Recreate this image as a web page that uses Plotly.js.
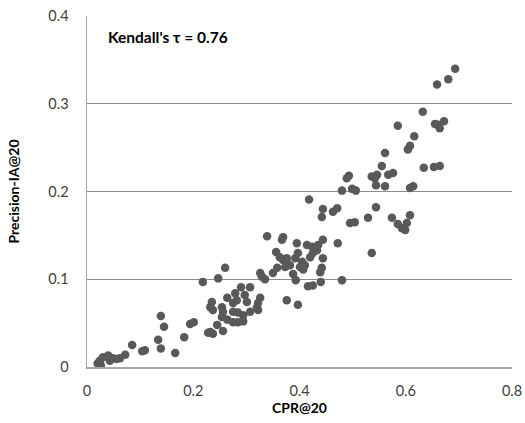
<!DOCTYPE html>
<html>
<head>
<meta charset="utf-8">
<script src="https://cdn.plot.ly/plotly-3.0.1.min.js"></script>
<style>html,body{margin:0;padding:0;background:#fff;}#chart{width:525px;height:423px;}</style>
</head>
<body>
<div id="chart"></div>
<script>
// CPR@20 values (x)
const cpr = [
  0.020,0.024,0.026,0.030,0.040,0.043,0.049,0.056,0.062,0.072,0.085,0.104,0.109,0.139,0.145,0.134,0.139,0.166,0.183,0.194,0.201,
  0.218,0.247,0.260,0.290,0.307,0.279,0.297,0.264,0.235,0.232,0.237,0.282,0.275,0.301,0.326,0.322,0.320,0.254,0.256,0.254,0.275,0.284,0.294,0.307,0.322,0.264,0.275,0.284,0.294,0.245,0.232,0.237,0.228,0.256,
  0.339,0.369,0.367,0.356,0.369,0.376,0.358,0.350,0.326,0.329,0.335,0.376,0.397,0.395,0.414,0.424,0.435,0.444,0.472,0.425,0.420,0.433,0.397,0.392,0.376,0.363,0.405,0.410,0.407,0.401,0.382,0.373,0.444,0.442,0.439,0.388,0.393,0.416,0.425,0.440,0.480,0.536,
  0.418,0.444,0.442,0.463,0.471,0.495,0.504,0.529,0.544,0.480,0.499,0.506,0.493,0.489,0.536,0.546,0.542,0.567,0.576,0.544,0.561,0.561,0.555,0.608,0.614,0.574,0.608,0.585,0.593,0.599,0.602,0.634,0.653,0.664,0.585,0.616,0.608,0.604,0.632,0.655,0.664,0.672,0.661,0.659,0.680,0.693
];
// Precision-IA@20 values (y)
const precisionIA = [
  0.004,0.007,0.002,0.011,0.013,0.007,0.010,0.009,0.010,0.014,0.025,0.018,0.019,0.058,0.046,0.031,0.021,0.016,0.034,0.049,0.051,
  0.097,0.101,0.113,0.091,0.091,0.084,0.082,0.079,0.074,0.068,0.065,0.076,0.073,0.074,0.079,0.073,0.068,0.068,0.063,0.057,0.063,0.062,0.059,0.063,0.065,0.054,0.051,0.051,0.052,0.048,0.040,0.038,0.039,0.041,
  0.149,0.148,0.145,0.131,0.122,0.119,0.113,0.107,0.107,0.103,0.100,0.076,0.071,0.141,0.139,0.137,0.139,0.145,0.141,0.130,0.125,0.133,0.130,0.124,0.124,0.125,0.120,0.116,0.111,0.114,0.116,0.114,0.124,0.113,0.108,0.106,0.099,0.092,0.093,0.097,0.099,0.130,
  0.191,0.180,0.171,0.177,0.181,0.164,0.165,0.170,0.182,0.201,0.203,0.201,0.218,0.215,0.217,0.219,0.215,0.219,0.221,0.207,0.206,0.244,0.229,0.204,0.206,0.170,0.173,0.163,0.158,0.156,0.164,0.227,0.228,0.229,0.275,0.263,0.252,0.248,0.291,0.277,0.272,0.280,0.276,0.322,0.328,0.340
];
const xTicks = [0, 0.2, 0.4, 0.6, 0.8];
const xTickText = ['0', '0.2', '0.4', '0.6', '0.8'];
const yTicks = [0, 0.1, 0.2, 0.3, 0.4];
const yTickText = ['0', '0.1', '0.2', '0.3', '0.4'];
const annotationText = "Kendall's τ = 0.76";

const font = "Lato, 'Open Sans', sans-serif";
const trace = {
  x: cpr, y: precisionIA, type: 'scatter', mode: 'markers',
  marker: {size: 8.5, color: '#595959'},
  hoverinfo: 'x+y'
};
const layout = {
  width: 525, height: 423,
  margin: {l: 87, r: 13, t: 16, b: 56},
  paper_bgcolor: '#ffffff', plot_bgcolor: '#ffffff',
  showlegend: false,
  font: {family: font, size: 14, color: '#404040'},
  xaxis: {
    range: [0, 0.8], tickvals: xTicks, ticktext: xTickText,
    showgrid: false, zeroline: false,
    showline: true, linecolor: '#a6a6a6', linewidth: 1.5,
    ticks: '', ticklabelstandoff: 10,
    tickfont: {family: font, size: 14.5, color: '#404040'},
    title: {text: '<b>CPR@20</b>', font: {family: font, size: 14, color: '#000'}, standoff: 5}
  },
  yaxis: {
    range: [0, 0.4], tickvals: yTicks, ticktext: yTickText,
    showgrid: true, gridcolor: '#8c8c8c', gridwidth: 1,
    zeroline: false,
    showline: true, linecolor: '#a6a6a6', linewidth: 1.5,
    ticks: '', ticklabelstandoff: 14,
    tickfont: {family: font, size: 14.5, color: '#404040'},
    title: {text: '<b>Precision-IA@20</b>', font: {family: font, size: 14, color: '#000'}, standoff: 25}
  },
  annotations: [{
    text: '<b>' + annotationText + '</b>',
    xref: 'paper', yref: 'paper', x: 0.045, y: 0.94,
    xanchor: 'left', yanchor: 'middle', showarrow: false,
    font: {family: font, size: 15.5, color: '#000'}
  }]
};
Plotly.newPlot('chart', [trace], layout, {displayModeBar: false, staticPlot: true});
</script>
</body>
</html>
